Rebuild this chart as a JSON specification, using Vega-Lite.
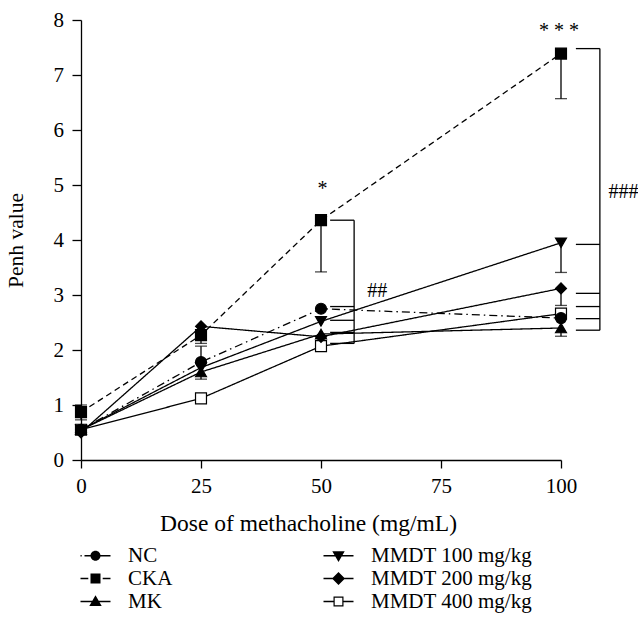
{
  "$schema": "https://vega.github.io/schema/vega-lite/v6.json",
  "width": 480,
  "height": 440,
  "autosize": {"type": "none"},
  "padding": {"left": 81, "top": 20, "right": 77, "bottom": 160},
  "background": "white",
  "config": {
    "font": "Liberation Serif",
    "view": {"stroke": null},
    "axis": {
      "domainColor": "black", "tickColor": "black", "labelColor": "black", "titleColor": "black",
      "labelFont": "Liberation Serif", "titleFont": "Liberation Serif",
      "labelFontSize": 21, "titleFontSize": 22.5, "titleFontWeight": "normal",
      "grid": false, "tickSize": 8, "domainWidth": 1.3, "tickWidth": 1.3, "labelFlush": false
    },
    "legend": {
      "title": null,
      "orient": "none",
      "legendX": 4,
      "legendY": 525,
      "columns": 2,
      "columnPadding": 150,
      "rowPadding": 1,
      "labelFont": "Liberation Serif",
      "labelFontSize": 21,
      "labelColor": "black",
      "labelOffset": 22,
      "labelLimit": 400,
      "symbolSize": 400,
      "symbolFillColor": "black",
      "symbolStrokeWidth": 0,
      "padding": 0
    }
  },
  "datasets": {
    "penh": [
      {"group": "MMDT 400 mg/kg", "dose": 0, "penh": 0.55},
      {"group": "MMDT 400 mg/kg", "dose": 25, "penh": 1.12},
      {"group": "MMDT 400 mg/kg", "dose": 50, "penh": 2.07},
      {"group": "MMDT 400 mg/kg", "dose": 100, "penh": 2.66},
      {"group": "NC", "dose": 0, "penh": 0.55},
      {"group": "NC", "dose": 25, "penh": 1.78},
      {"group": "NC", "dose": 50, "penh": 2.75},
      {"group": "NC", "dose": 100, "penh": 2.58},
      {"group": "CKA", "dose": 0, "penh": 0.87},
      {"group": "CKA", "dose": 25, "penh": 2.27},
      {"group": "CKA", "dose": 50, "penh": 4.36},
      {"group": "CKA", "dose": 100, "penh": 7.39},
      {"group": "MK", "dose": 0, "penh": 0.55},
      {"group": "MK", "dose": 25, "penh": 1.6},
      {"group": "MK", "dose": 50, "penh": 2.29},
      {"group": "MK", "dose": 100, "penh": 2.4},
      {"group": "MMDT 100 mg/kg", "dose": 0, "penh": 0.55},
      {"group": "MMDT 100 mg/kg", "dose": 25, "penh": 1.68},
      {"group": "MMDT 100 mg/kg", "dose": 50, "penh": 2.52},
      {"group": "MMDT 100 mg/kg", "dose": 100, "penh": 3.95},
      {"group": "MMDT 200 mg/kg", "dose": 0, "penh": 0.5},
      {"group": "MMDT 200 mg/kg", "dose": 25, "penh": 2.43},
      {"group": "MMDT 200 mg/kg", "dose": 50, "penh": 2.24},
      {"group": "MMDT 200 mg/kg", "dose": 100, "penh": 3.12}
    ],
    "err": [
      {"group": "CKA", "dose": 0, "mean": 0.87, "end": 1.0},
      {"group": "CKA", "dose": 0, "mean": 0.87, "end": 0.73},
      {"group": "CKA", "dose": 25, "mean": 2.27, "end": 2.12},
      {"group": "NC", "dose": 25, "mean": 1.78, "end": 2.07},
      {"group": "CKA", "dose": 50, "mean": 4.36, "end": 3.42},
      {"group": "CKA", "dose": 100, "mean": 7.39, "end": 6.57},
      {"group": "MK", "dose": 25, "mean": 1.6, "end": 1.47},
      {"group": "MK", "dose": 100, "mean": 2.4, "end": 2.25},
      {"group": "MMDT 100 mg/kg", "dose": 100, "mean": 3.95, "end": 3.41},
      {"group": "MMDT 200 mg/kg", "dose": 100, "mean": 3.12, "end": 2.81}
    ],
    "brackets": [
      {"x": 51.9, "x2": 56.9, "y": 4.36, "y2": 4.36},
      {"x": 51.9, "x2": 56.9, "y": 2.79, "y2": 2.79},
      {"x": 51.9, "x2": 56.9, "y": 2.54, "y2": 2.54},
      {"x": 51.9, "x2": 56.9, "y": 2.32, "y2": 2.32},
      {"x": 51.9, "x2": 56.9, "y": 2.12, "y2": 2.12},
      {"x": 56.9, "x2": 56.9, "y": 4.36, "y2": 2.12},
      {"x": 103.1, "x2": 108.1, "y": 7.48, "y2": 7.48},
      {"x": 103.1, "x2": 108.1, "y": 3.92, "y2": 3.92},
      {"x": 103.1, "x2": 108.1, "y": 3.03, "y2": 3.03},
      {"x": 103.1, "x2": 108.1, "y": 2.79, "y2": 2.79},
      {"x": 103.1, "x2": 108.1, "y": 2.57, "y2": 2.57},
      {"x": 103.1, "x2": 108.1, "y": 2.36, "y2": 2.36},
      {"x": 108.1, "x2": 108.1, "y": 7.48, "y2": 2.36}
    ],
    "notes": [
      {"label": "*", "x": 50.3, "y": 5.0},
      {"label": "* * *", "x": 99.6, "y": 7.88},
      {"label": "##", "x": 61.7, "y": 3.15},
      {"label": "###", "x": 113, "y": 4.94}
    ]
  },
  "resolve": {"scale": {"shape": "independent", "fill": "independent", "strokeDash": "independent"}},
  "layer": [
    {
      "data": {"name": "penh"},
      "mark": {"type": "line", "stroke": "black", "strokeWidth": 1.3},
      "encoding": {
        "x": {"field": "dose", "type": "quantitative", "scale": {"domain": [0, 100], "nice": false},
              "axis": {"values": [0, 25, 50, 75, 100], "title": "Dose of methacholine (mg/mL)", "labelPadding": 7, "titlePadding": 15, "titleFontSize": 23.5, "titleX": 227}},
        "y": {"field": "penh", "type": "quantitative", "scale": {"domain": [0, 8], "nice": false},
              "axis": {"values": [0, 1, 2, 3, 4, 5, 6, 7, 8], "title": "Penh value", "tickSize": 9, "labelPadding": 8.5, "titlePadding": 26, "titleFontSize": 21.5}},
        "strokeDash": {"field": "group", "type": "nominal",
          "scale": {"domain": ["NC", "CKA", "MK", "MMDT 100 mg/kg", "MMDT 200 mg/kg", "MMDT 400 mg/kg"],
                    "range": [[8, 4, 1.5, 4], [6, 4], [1, 0], [1, 0], [1, 0], [1, 0]]},
          "legend": null}
      }
    },
    {
      "data": {"name": "err"},
      "mark": {"type": "rule", "stroke": "black", "strokeWidth": 1.3},
      "encoding": {
        "x": {"field": "dose", "type": "quantitative"},
        "y": {"field": "mean", "type": "quantitative"},
        "y2": {"field": "end"}
      }
    },
    {
      "data": {"name": "err"},
      "mark": {"type": "tick", "orient": "horizontal", "color": "black", "size": 12, "thickness": 1.3},
      "encoding": {
        "x": {"field": "dose", "type": "quantitative"},
        "y": {"field": "end", "type": "quantitative"}
      }
    },
    {
      "data": {"name": "penh"},
      "mark": {"type": "point", "filled": true, "stroke": "black", "strokeWidth": 1.2, "size": 120, "opacity": 1},
      "encoding": {
        "x": {"field": "dose", "type": "quantitative"},
        "y": {"field": "penh", "type": "quantitative"},
        "shape": {"field": "group", "type": "nominal",
          "scale": {"domain": ["NC", "CKA", "MK", "MMDT 100 mg/kg", "MMDT 200 mg/kg", "MMDT 400 mg/kg"],
                    "range": ["circle", "square", "triangle-up", "triangle-down", "diamond", "square"]},
          "legend": null},
        "fill": {"field": "group", "type": "nominal",
          "scale": {"domain": ["NC", "CKA", "MK", "MMDT 100 mg/kg", "MMDT 200 mg/kg", "MMDT 400 mg/kg"],
                    "range": ["black", "black", "black", "black", "black", "white"]},
          "legend": null}
      }
    },
    {
      "data": {"name": "penh"},
      "transform": [{"filter": "false"}],
      "mark": {"type": "point", "filled": true, "color": "black", "size": 400, "opacity": 1},
      "encoding": {
        "x": {"field": "dose", "type": "quantitative"},
        "y": {"field": "penh", "type": "quantitative"},
        "shape": {"field": "group", "type": "nominal",
          "scale": {"domain": ["NC", "CKA", "MK", "MMDT 100 mg/kg", "MMDT 200 mg/kg", "MMDT 400 mg/kg"],
                    "range": [
                      "M-1.5,-0.065H-1.38V0.065H-1.5ZM-1.1,-0.065H1.5V0.065H-1.1ZM0.5,0A0.5,0.5,0,1,1,-0.5,0A0.5,0.5,0,1,1,0.5,0Z",
                      "M-1.5,-0.065H-0.72V0.065H-1.5ZM0.72,-0.065H1.5V0.065H0.72ZM-0.5,-0.5H0.5V0.5H-0.5Z",
                      "M-1.5,-0.065H1.5V0.065H-1.5ZM0,-0.62L0.62,0.45L-0.62,0.45Z",
                      "M-1.5,-0.065H1.5V0.065H-1.5ZM-0.62,-0.45L0.62,-0.45L0,0.62Z",
                      "M-1.5,-0.065H1.5V0.065H-1.5ZM0,-0.65L0.65,0L0,0.65L-0.65,0Z",
                      "M-1.5,-0.065H-0.5V0.065H-1.5ZM0.5,-0.065H1.5V0.065H0.5ZM-0.5,-0.5H0.5V0.5H-0.5ZM-0.38,-0.38V0.38H0.38V-0.38Z"
                    ]}}
      }
    },
    {
      "data": {"name": "brackets"},
      "mark": {"type": "rule", "stroke": "black", "strokeWidth": 1.3},
      "encoding": {
        "x": {"field": "x", "type": "quantitative"},
        "x2": {"field": "x2"},
        "y": {"field": "y", "type": "quantitative"},
        "y2": {"field": "y2"}
      }
    },
    {
      "data": {"name": "notes"},
      "mark": {"type": "text", "font": "Liberation Serif", "fontSize": 20, "color": "black", "baseline": "middle", "dy": 4},
      "encoding": {
        "x": {"field": "x", "type": "quantitative"},
        "y": {"field": "y", "type": "quantitative"},
        "text": {"field": "label"}
      }
    }
  ]
}
